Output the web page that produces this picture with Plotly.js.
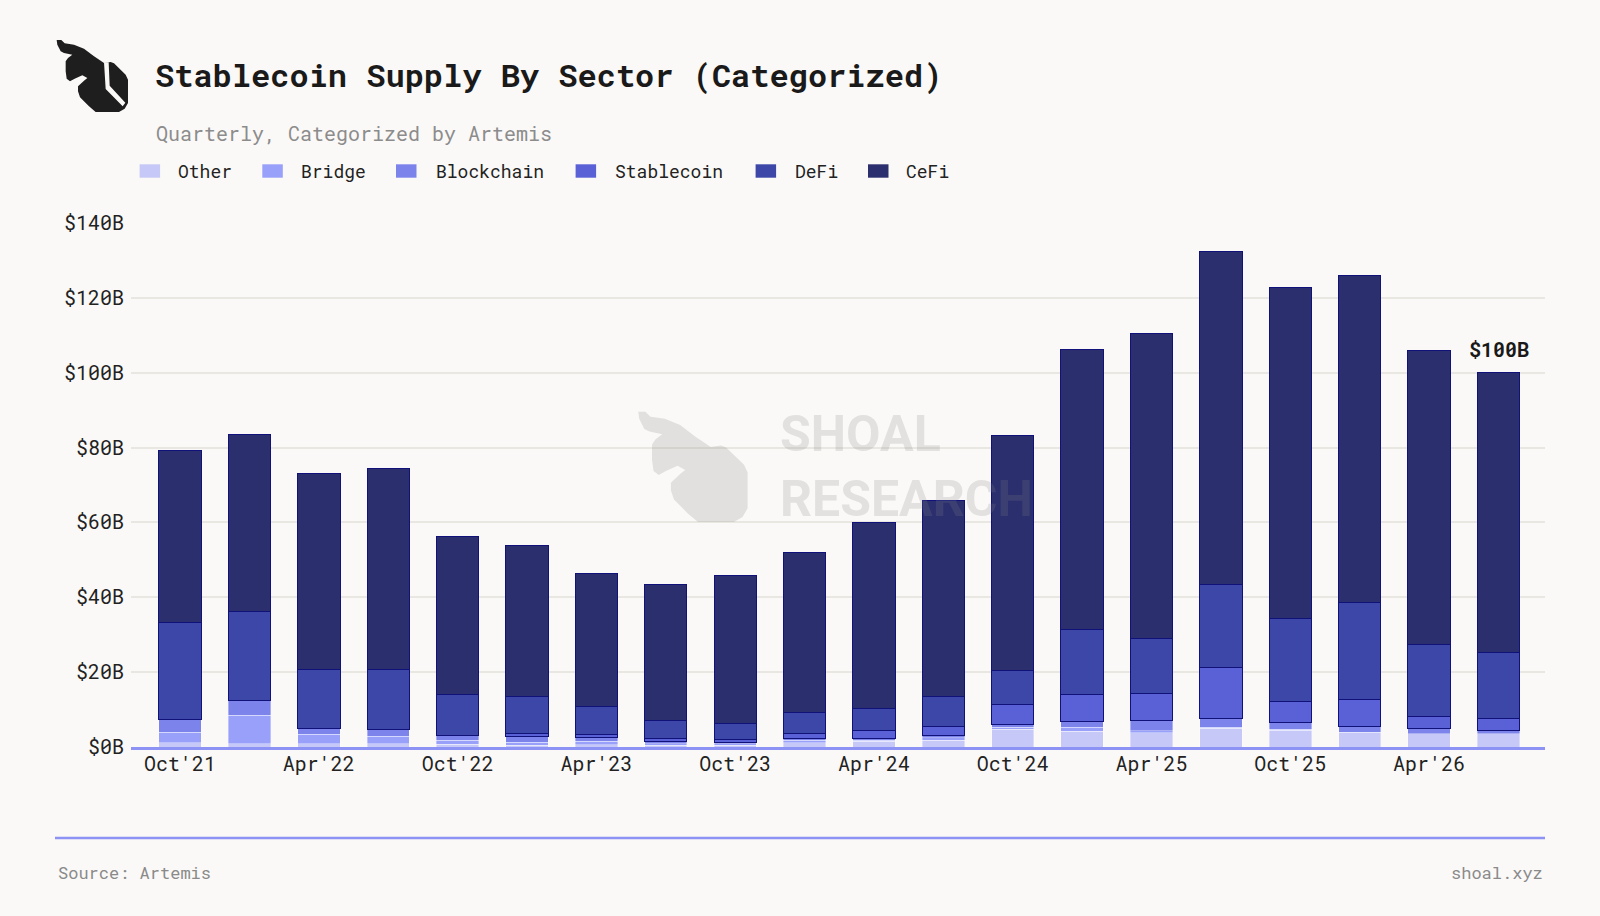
<!DOCTYPE html>
<html>
<head>
<meta charset="utf-8">
<script src="https://cdn.plot.ly/plotly-3.0.1.min.js"></script>
<style>
  html, body { margin: 0; padding: 0; background: #faf9f7; }
  #chart { width: 1600px; height: 916px; }
</style>
</head>
<body>
<div id="chart"></div>
<script>
// quarterly stablecoin supply, $B
var quarters = ["Oct'21", "Jan'22", "Apr'22", "Jul'22", "Oct'22", "Jan'23", "Apr'23", "Jul'23", "Oct'23", "Jan'24",
                "Apr'24", "Jul'24", "Oct'24", "Jan'25", "Apr'25", "Jul'25", "Oct'25", "Jan'26", "Apr'26", "Jul'26"];
var tickQuarters = ["Oct'21", "Apr'22", "Oct'22", "Apr'23", "Oct'23", "Apr'24", "Oct'24", "Apr'25", "Oct'25", "Apr'26"];

var other      = [1.2, 0.9, 0.9, 0.9, 0.7, 0.5, 0.6, 0.5, 0.5, 1.2, 1.5, 1.8, 4.7, 4.2, 3.8, 5.0, 4.5, 3.8, 3.5, 3.5];
var bridge     = [2.8, 7.6, 2.5, 2.0, 1.1, 0.8, 0.9, 0.4, 0.4, 0.6, 0.3, 0.7, 0.6, 1.1, 0.5, 0.3, 0.2, 0.2, 0.1, 0.1];
var blockchain = [3.3, 3.8, 1.5, 1.8, 1.2, 1.5, 1.0, 0.6, 0.4, 0.5, 0.4, 0.5, 0.8, 1.6, 2.8, 2.4, 1.8, 1.6, 1.4, 0.9];
var stablecoin = [0.1, 0.1, 0.1, 0.1, 0.1, 0.8, 0.8, 0.8, 0.7, 1.2, 2.1, 2.6, 5.3, 7.1, 7.1, 13.6, 5.6, 7.0, 3.2, 3.2];
var defi       = [25.9, 23.7, 15.7, 15.9, 10.8, 9.9, 7.4, 4.8, 4.2, 5.6, 6.0, 8.0, 9.0, 17.4, 14.7, 22.1, 22.2, 26.0, 19.2, 17.5];
var cefi       = [45.8, 47.4, 52.4, 53.8, 42.3, 40.3, 35.7, 36.3, 39.7, 43.0, 49.7, 52.2, 62.8, 74.9, 81.5, 88.9, 88.4, 87.4, 78.6, 74.8];

var seriesNames  = ['Other', 'Bridge', 'Blockchain', 'Stablecoin', 'DeFi', 'CeFi'];
var seriesValues = [other, bridge, blockchain, stablecoin, defi, cefi];
var seriesColors = ['#c6c9f7', '#99a0fa', '#7c84ec', '#5a61d6', '#3d47a8', '#2b2f6e'];

var mono = "'Roboto Mono', 'DejaVu Sans Mono', monospace";

// plot box in page pixels, used to place the decorations
var W = 1600, H = 916;
var L = 131, R = 1545, T = 223, B = 747;
function px(x) { return (x - L) / (R - L); }
function py(y) { return (B - y) / (B - T); }

var data = seriesNames.map(function (name, i) {
  var dark = i >= 3;
  return {
    x: quarters,
    y: seriesValues[i],
    name: name,
    type: 'bar',
    marker: {
      color: seriesColors[i],
      line: {color: dark ? '#10127a' : 'rgba(255,255,255,0.6)', width: dark ? 1 : 0.6}
    },
    hovertemplate: '%{x}<br>' + name + ': $%{y:.1f}B<extra></extra>'
  };
});

// label on last bar = its stacked total
var last = quarters.length - 1;
var lastTotal = 0;
seriesValues.forEach(function (s) { lastTotal += s[last]; });

// shoal logo, traced by eye
var logoPath = 'M8,6 L22,6 L32,16 L60,20 L90,32 L120,55 L150,75 L170,72 L180,76 L215,110 L222,125 L222,195 ' +
               'L212,212 L195,222 L125,222 L105,205 L78,178 L72,160 L72,145 L90,128 L100,120 L85,112 L62,122 ' +
               'L48,130 L38,122 L35,100 L35,70 L42,60 L55,50 L30,45 L20,40 L15,30 L10,20 Z';
var slashPath = 'M150,73 L164,73 L167,143 L214,194 L206,205 L155,153 Z';
function logoSvg(fill, cut) {
  var svg = '<svg xmlns="http://www.w3.org/2000/svg" viewBox="-12 -9 270 270" width="270" height="270">' +
            '<path d="' + logoPath + '" fill="' + fill + '"/>' +
            '<path d="' + slashPath + '" fill="' + cut + '"/></svg>';
  return 'data:image/svg+xml;base64,' + btoa(svg);
}

// legend drawn by hand so the swatches match the wide flat ones in the original
var legendRects = [[139.6, 175.5], [262.3, 299], [396, 433.7], [575.6, 613], [755.6, 793], [868, 904]];
var shapes = [];
var annotations = [];
legendRects.forEach(function (p, i) {
  shapes.push({
    type: 'rect', xref: 'paper', yref: 'paper',
    x0: px(p[0]), x1: px(p[0] + 20.5), y0: py(177.7), y1: py(164.3),
    fillcolor: seriesColors[i], line: {width: 0}
  });
  annotations.push({
    xref: 'paper', yref: 'paper', x: px(p[1]), y: py(171), xanchor: 'left', yanchor: 'middle',
    text: seriesNames[i], showarrow: false, font: {family: mono, size: 18, color: '#222222'}
  });
});

// footer rule
shapes.push({
  type: 'line', xref: 'paper', yref: 'paper',
  x0: px(55), x1: px(1545), y0: py(838), y1: py(838),
  line: {color: '#8c93f5', width: 2.5}
});

annotations.push(
  {xref: 'paper', yref: 'paper', x: px(154), y: py(133), xanchor: 'left', yanchor: 'middle',
   text: 'Quarterly, Categorized by Artemis', showarrow: false,
   font: {family: mono, size: 20, color: '#8c8c8c'}},
  {x: quarters[last], y: lastTotal, yshift: 24, yanchor: 'middle', xanchor: 'center',
   text: '$' + Math.round(lastTotal) + 'B', showarrow: false,
   font: {family: mono, size: 20, color: '#1a1a1a', weight: 'bold'}},
  {xref: 'paper', yref: 'paper', x: px(56), y: py(872), xanchor: 'left', yanchor: 'middle',
   text: 'Source: Artemis', showarrow: false, font: {family: mono, size: 17, color: '#8a8a8a'}},
  {xref: 'paper', yref: 'paper', x: px(1545), y: py(872), xanchor: 'right', yanchor: 'middle',
   text: 'shoal.xyz', showarrow: false, font: {family: mono, size: 17, color: '#8a8a8a'}},
  // watermark
  {xref: 'paper', yref: 'paper', x: px(778), y: py(466), xanchor: 'left', yanchor: 'middle',
   text: 'SHOAL<br>RESEARCH', align: 'left', showarrow: false,
   font: {family: 'Roboto, sans-serif', size: 50, color: 'rgba(128,128,128,0.2)', weight: 'bold'}}
);

var images = [
  {source: logoSvg('#1e1e1e', '#faf9f7'), xref: 'paper', yref: 'paper',
   x: px(50), y: py(35), sizex: 90 / (R - L), sizey: 90 / (B - T),
   xanchor: 'left', yanchor: 'top', sizing: 'stretch', layer: 'above'},
  {source: logoSvg('#808080', 'rgba(0,0,0,0)'), xref: 'paper', yref: 'paper',
   x: px(628), y: py(404), sizex: 138 / (R - L), sizey: 138 / (B - T),
   xanchor: 'left', yanchor: 'top', sizing: 'stretch', layer: 'above', opacity: 0.2}
];

var layout = {
  width: W,
  height: H,
  barmode: 'stack',
  bargap: 0.39,
  showlegend: false,
  paper_bgcolor: '#faf9f7',
  plot_bgcolor: '#faf9f7',
  margin: {l: L, r: W - R, t: T, b: H - B, pad: 0},
  font: {family: mono, size: 20, color: '#222222'},
  title: {
    text: 'Stablecoin Supply By Sector (Categorized)',
    font: {family: mono, size: 32, color: '#1a1a1a', weight: 'bold'},
    xref: 'container', yref: 'container',
    x: 155 / W, xanchor: 'left', y: 1 - 76 / H, yanchor: 'middle'
  },
  xaxis: {
    type: 'category',
    range: [-0.707, quarters.length - 0.33],
    tickmode: 'array',
    tickvals: tickQuarters,
    ticktext: tickQuarters,
    ticks: '',
    showgrid: false,
    showline: true,
    linecolor: '#8c93f5',
    linewidth: 3,
    tickfont: {family: mono, size: 20, color: '#222222'},
    ticklabelstandoff: -3,
    fixedrange: true
  },
  yaxis: {
    range: [0, 140],
    dtick: 20,
    tickprefix: '$',
    ticksuffix: 'B',
    ticks: '',
    gridcolor: '#e9e7e1',
    gridwidth: 2,
    zeroline: false,
    showline: false,
    tickfont: {family: mono, size: 20, color: '#222222'},
    ticklabelstandoff: 6,
    fixedrange: true
  },
  shapes: shapes,
  annotations: annotations,
  images: images
};

Plotly.newPlot('chart', data, layout, {displayModeBar: false, staticPlot: true});
</script>
</body>
</html>
